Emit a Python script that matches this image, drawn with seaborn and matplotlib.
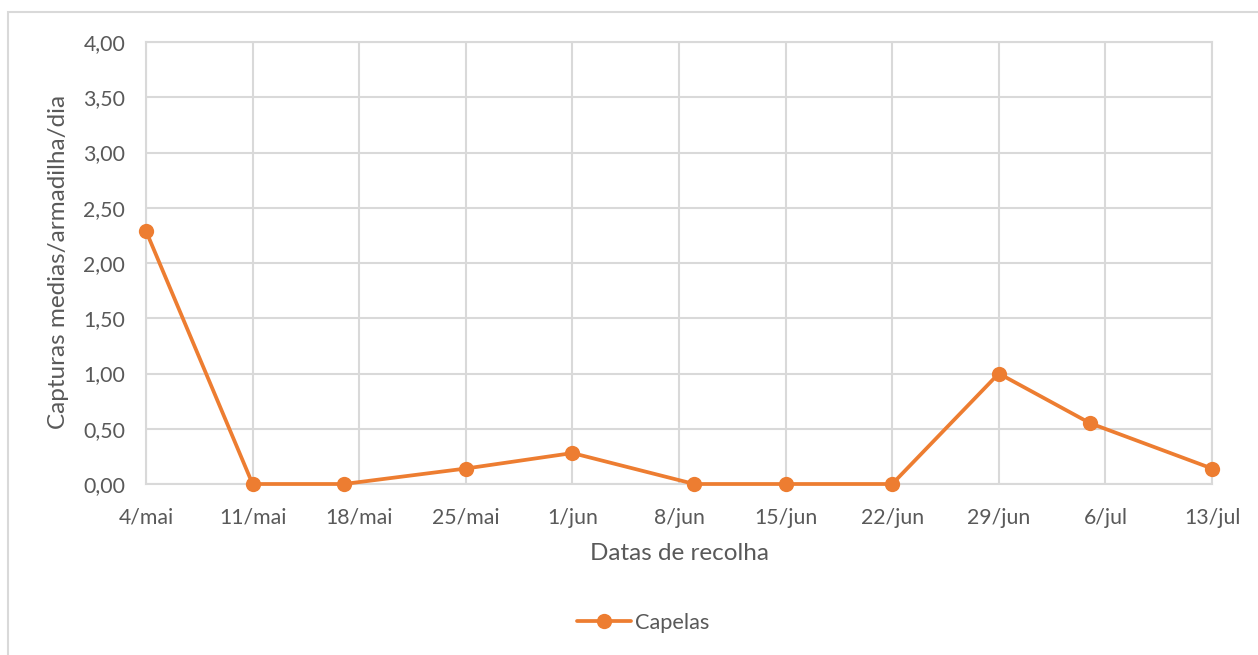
import pandas as pd
import numpy as np
import matplotlib
matplotlib.use("Agg")
import matplotlib.pyplot as plt
import matplotlib.dates as mdates
from matplotlib.ticker import FuncFormatter
from matplotlib.patches import Rectangle
import seaborn as sns

# collection dates (actual dates of each trap reading)
datas = ["2021-05-04", "2021-05-11", "2021-05-17", "2021-05-25", "2021-06-01",
         "2021-06-09", "2021-06-15", "2021-06-22", "2021-06-29", "2021-07-05",
         "2021-07-13"]
capelas = [2.29, 0.00, 0.00, 0.14, 0.28, 0.00, 0.00, 0.00, 1.00, 0.55, 0.14]

tick_datas = ["2021-05-04", "2021-05-11", "2021-05-18", "2021-05-25", "2021-06-01",
              "2021-06-08", "2021-06-15", "2021-06-22", "2021-06-29", "2021-07-06",
              "2021-07-13"]
tick_labels = ["4/mai", "11/mai", "18/mai", "25/mai", "1/jun", "8/jun",
               "15/jun", "22/jun", "29/jun", "6/jul", "13/jul"]
y_ticks = [0, 0.5, 1, 1.5, 2, 2.5, 3, 3.5, 4]

df = pd.DataFrame({"data": pd.to_datetime(datas), "capturas": capelas})

sns.set_style("white")
plt.rcParams['font.family'] = ['Lato', 'DejaVu Sans']

txt = '#595959'
grid = '#D9D9D9'
orange = '#ED7D31'

fig = plt.figure(figsize=(12.58, 6.55), dpi=100)
ax = fig.add_axes([146/1258, 1 - 484/655, (1212-146)/1258, (484-42)/655])

sns.lineplot(data=df, x="data", y="capturas", ax=ax, color=orange, linewidth=2.7,
             marker='o', markersize=11, markeredgewidth=0, label="Capelas",
             zorder=5, clip_on=False)

ticks = pd.to_datetime(tick_datas)
ax.set_xlim(ticks[0], ticks[-1])
ax.set_xticks(ticks)
ax.set_xticklabels(tick_labels)
ax.set_ylim(0, 4)
ax.set_yticks(y_ticks)
ax.yaxis.set_major_formatter(FuncFormatter(lambda v, p: f"{v:.2f}".replace('.', ',')))

ax.grid(True, color=grid, linewidth=1.5)
ax.set_axisbelow(True)
for s in ax.spines.values():
    s.set_color(grid)
    s.set_linewidth(1.5)
ax.tick_params(length=0, labelsize=15.3, labelcolor=txt)
ax.tick_params(axis='y', pad=15)
ax.tick_params(axis='x', pad=17)
ax.set_xlabel("")
ax.set_ylabel("")

fig.text(59/1258, 1 - 262/655, "Capturas medias/armadilha/dia", rotation=90,
         ha='center', va='center', fontsize=17.5, color=txt)
fig.text(679/1258, 1 - 553/655, "Datas de recolha", ha='center', va='center',
         fontsize=17.5, color=txt)

leg = ax.legend(loc='center', bbox_to_anchor=(643/1258, 1 - 623/655),
                bbox_transform=fig.transFigure, frameon=False, fontsize=15.7,
                handlelength=2.5, handletextpad=0.15, labelcolor=txt)

# chart area border (cropped on right and bottom)
fig.patches.append(Rectangle((7.5/1258, -0.05), 1.1, 1 - 12/655 + 0.05,
                             transform=fig.transFigure, fill=False,
                             edgecolor=grid, linewidth=1.5))

fig.savefig("out.png", dpi=100, facecolor='white')
